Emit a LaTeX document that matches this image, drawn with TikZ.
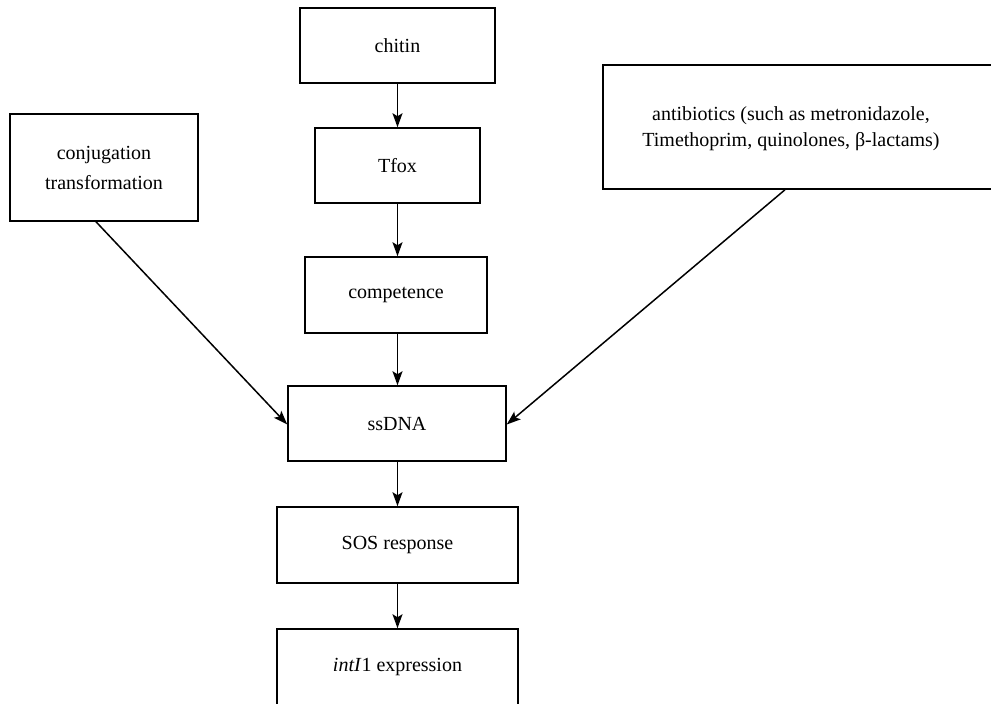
\documentclass[tikz,border=0pt]{standalone}
\usepackage{fontspec}
\setmainfont{Liberation Serif}
\usetikzlibrary{arrows.meta}
\begin{document}
\begin{tikzpicture}[x=1pt,y=-1pt,font=\fontsize{20}{28}\selectfont]
	\useasboundingbox(0,0)rectangle(991,704);
	\tikzset{every node/.style={inner sep=0pt,align=center},
		box/.style={draw=black,line width=1.5pt},
		flow/.style={line width=1.5pt,-{Stealth[length=14pt,width=10pt,inset=3pt]}}}
	\node[box,minimum width=195,minimum height=75](chitin)at(397.5,45.5){chitin};
	\node[box,minimum width=165,minimum height=75](tfox)at(397.5,165.5){Tfox};
	\node[box,minimum width=182,minimum height=76](comp)at(396,295){competence};
	\node[box,minimum width=218,minimum height=75](ssdna)at(397,423.5){ssDNA};
	\node[box,minimum width=241,minimum height=76](sos)at(397.5,545){SOS response};
	\node[box,minimum width=241,minimum height=76](intl)at(397.5,667){\textit{intI}1 expression};
	\node[box,minimum width=188,minimum height=107,font=\fontsize{20}{30}\selectfont](conj)at(104,167.5)
		{conjugation\\transformation};
	\node[box,minimum width=400,minimum height=124](abx)at(803,127){};
	\node[font=\fontsize{20}{26}\selectfont](abxtext)at(791,129)
		{antibiotics (such as metronidazole,\\Timethoprim, quinolones, β-lactams)};
	\draw[flow](chitin)--(tfox);
	\draw[flow](tfox)--(comp.north-|tfox);
	\draw[flow](comp.south-|tfox)--(ssdna.north-|tfox);
	\draw[flow](ssdna.south-|tfox)--(sos.north-|tfox);
	\draw[flow](sos.south-|tfox)--(intl.north-|tfox);
	\draw[flow]([xshift=-8pt]conj.south)--([yshift=-1pt]ssdna.west);
	\draw[flow]([xshift=-18pt]abx.south)--([yshift=-1pt]ssdna.east);
\end{tikzpicture}
\end{document}
